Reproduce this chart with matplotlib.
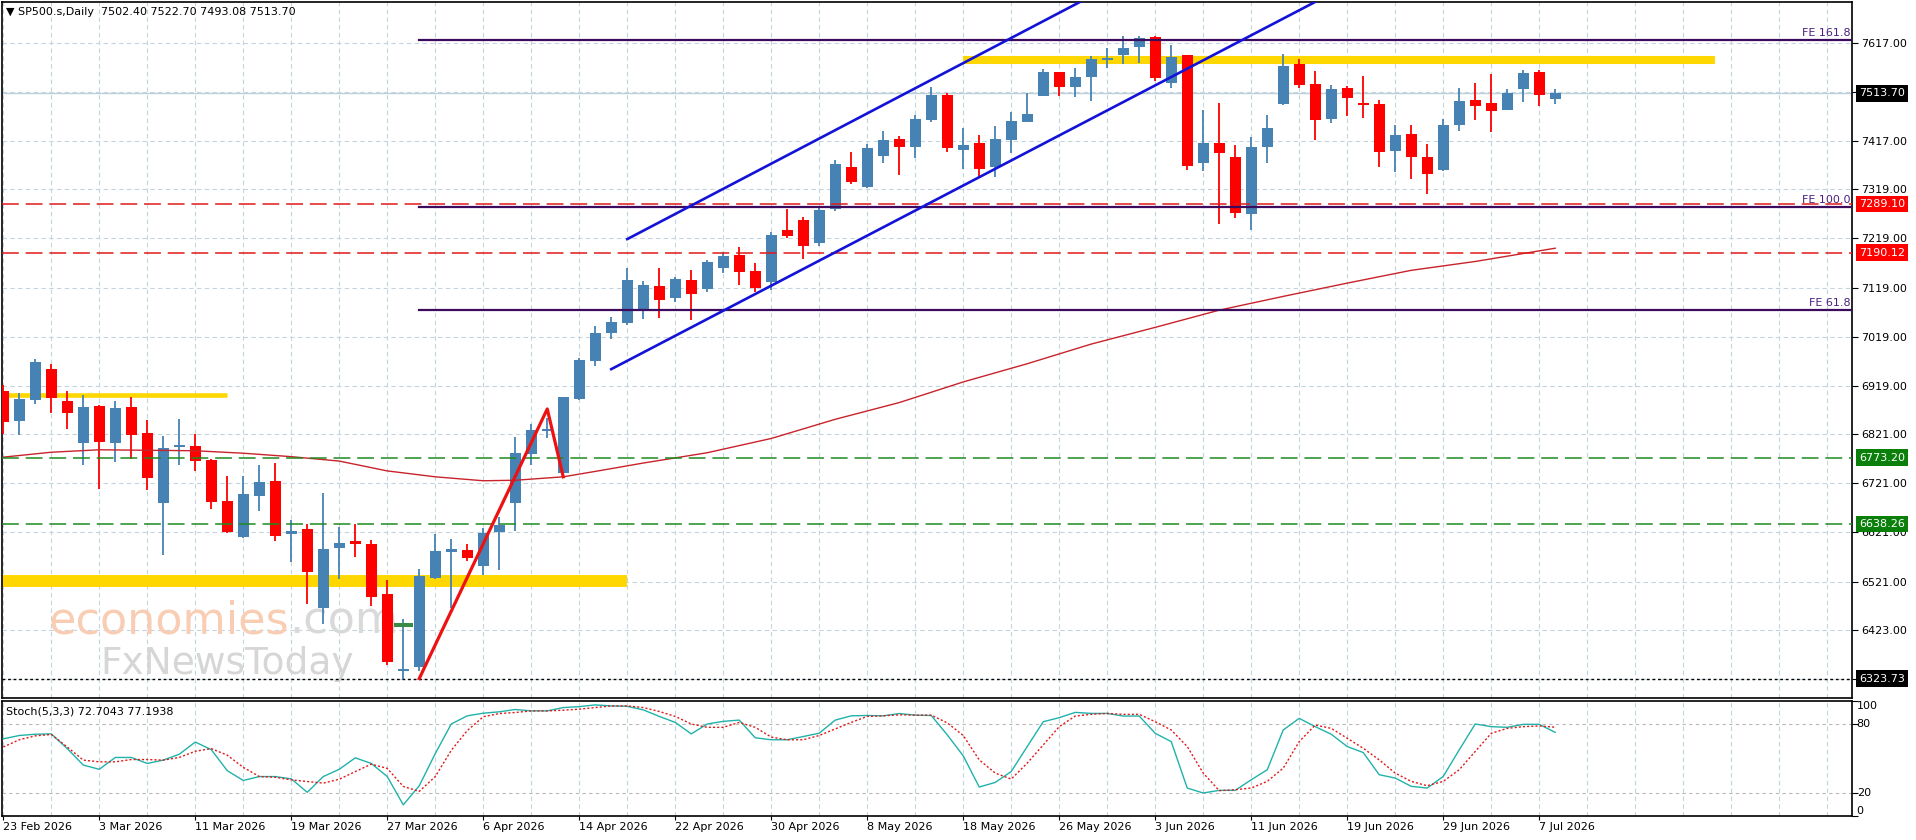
import matplotlib
matplotlib.use("Agg")
import matplotlib.pyplot as plt
import numpy as np

# values (SP500.s daily)
date_labels = ["23 Feb 2026", "3 Mar 2026", "11 Mar 2026", "19 Mar 2026", "27 Mar 2026",
               "6 Apr 2026", "14 Apr 2026", "22 Apr 2026", "30 Apr 2026", "8 May 2026",
               "18 May 2026", "26 May 2026", "3 Jun 2026", "11 Jun 2026", "19 Jun 2026",
               "29 Jun 2026", "7 Jul 2026"]

opens = [6908, 6848, 6890, 6953, 6888, 6803, 6878, 6803, 6876, 6823,
         6681, 6794, 6796, 6768, 6684, 6611, 6695, 6725, 6618, 6627,
         6468, 6590, 6604, 6597, 6496, 6339, 6347, 6528, 6581, 6586,
         6553, 6622, 6680, 6781, 6827, 6742, 6892, 6970, 7026, 7046,
         7074, 7123, 7098, 7135, 7116, 7159, 7185, 7152, 7131, 7237,
         7256, 7209, 7278, 7365, 7323, 7387, 7421, 7405, 7460, 7511,
         7399, 7412, 7365, 7420, 7456, 7509, 7557, 7526, 7548, 7582,
         7591, 7609, 7629, 7536, 7591, 7373, 7414, 7385, 7268, 7404,
         7492, 7574, 7532, 7461, 7524, 7492, 7492, 7397, 7431, 7385,
         7358, 7450, 7500, 7494, 7481, 7523, 7557, 7502.40]
highs = [6920, 6904, 6973, 6963, 6908, 6901, 6880, 6888, 6897, 6849,
         6817, 6852, 6821, 6770, 6735, 6735, 6758, 6763, 6646, 6639,
         6702, 6632, 6639, 6605, 6524, 6444, 6547, 6618, 6608, 6598,
         6629, 6652, 6814, 6842, 6853, 6897, 6975, 7041, 7059, 7158,
         7132, 7158, 7141, 7154, 7175, 7192, 7202, 7169, 7232, 7278,
         7263, 7280, 7378, 7394, 7411, 7437, 7427, 7469, 7526, 7514,
         7443, 7429, 7447, 7477, 7515, 7563, 7557, 7565, 7589, 7606,
         7631, 7631, 7630, 7612, 7592, 7480, 7495, 7409, 7426, 7470,
         7595, 7583, 7559, 7531, 7529, 7549, 7500, 7450, 7450, 7411,
         7461, 7524, 7536, 7553, 7522, 7561, 7561, 7522.70]
lows = [6822, 6820, 6882, 6863, 6832, 6759, 6709, 6764, 6771, 6707,
        6575, 6758, 6746, 6669, 6620, 6610, 6664, 6604, 6560, 6476,
        6435, 6527, 6571, 6471, 6351, 6323.73, 6340, 6527, 6468, 6563,
        6534, 6544, 6624, 6758, 6812, 6741, 6890, 6960, 7015, 7043,
        7056, 7057, 7090, 7053, 7110, 7148, 7124, 7110, 7114, 7219,
        7178, 7203, 7275, 7329, 7322, 7373, 7348, 7383, 7456, 7394,
        7361, 7344, 7344, 7393, 7456, 7509, 7509, 7507, 7499, 7565,
        7573, 7575, 7539, 7524, 7359, 7356, 7249, 7260, 7236, 7373,
        7491, 7524, 7419, 7453, 7468, 7463, 7365, 7355, 7340, 7310,
        7357, 7438, 7460, 7436, 7480, 7497, 7488, 7493.08]
closes = [6846, 6892, 6967, 6895, 6864, 6876, 6805, 6874, 6819, 6732,
          6792, 6797, 6766, 6683, 6622, 6699, 6723, 6614, 6623, 6541,
          6588, 6600, 6598, 6490, 6357, 6344, 6532, 6583, 6588, 6569,
          6620, 6635, 6783, 6829, 6832, 6897, 6971, 7027, 7049, 7134,
          7124, 7093, 7137, 7106, 7170, 7183, 7151, 7119, 7226, 7224,
          7203, 7277, 7370, 7334, 7402, 7419, 7404, 7462, 7511, 7402,
          7408, 7361, 7422, 7458, 7473, 7557, 7526, 7548, 7583, 7585,
          7606, 7626, 7546, 7587, 7367, 7414, 7392, 7270, 7404, 7443,
          7570, 7530, 7460, 7522, 7504, 7490, 7395, 7429, 7385, 7350,
          7450, 7499, 7489, 7479, 7515, 7556, 7511, 7513.70]

# moving average, read at a few bars
ma_bar = [0, 3, 6, 9, 12, 15, 18, 21, 24, 27, 30, 32, 35, 37, 40, 44, 48, 52,
          56, 60, 64, 68, 72, 76, 80, 84, 88, 92, 97]
ma_val = [6774, 6784, 6789, 6788, 6787, 6782, 6775, 6766, 6746, 6734, 6726, 6727,
          6734, 6745, 6762, 6783, 6812, 6851, 6885, 6927, 6964, 7004, 7038, 7073,
          7101, 7128, 7154, 7172, 7199]

stoch_main = [67.1, 70, 71.1, 71.4, 58.6, 44.3, 40.6, 50.9, 50.9, 45.7,
              48.6, 53.7, 64.3, 57.7, 39.4, 30.9, 34.3, 34.3, 32.3, 20.6,
              34.3, 40.6, 50.6, 45.7, 34.3, 9.7, 26.3, 54.3, 80, 87.1,
              89.4, 90.6, 92.6, 91.4, 91.4, 94.3, 95.1, 96.6, 95.7, 95.4,
              92.3, 86.6, 81.4, 71.4, 80, 82.3, 83.4, 68, 66.3, 66.3,
              69.1, 72, 83.4, 87.1, 87.4, 87.1, 89.1, 87.7, 87.4, 70.6,
              52.3, 25.2, 29.2, 38.7, 60.4, 82, 85.5, 90.1, 89.2, 89.2,
              86.9, 86.9, 71.9, 64.7, 24.3, 20, 22.3, 22.3, 31.5, 40.2,
              74.8, 84.9, 77.7, 71.1, 60.4, 55.2, 35.9, 33, 25.8, 24.3,
              34.4, 57.5, 80, 77.7, 77.1, 79.7, 79.7, 72.7043]
stoch_signal = [60, 66.3, 69.7, 70.9, 60, 48.6, 47.1, 47.1, 49.1, 49.1,
                48.6, 50.9, 56.3, 58.6, 52.9, 42.3, 34.3, 33.7, 31.4, 30,
                28.6, 32, 38.6, 45.1, 41.4, 25.7, 21.4, 34.3, 57.1, 74.3,
                86.3, 89.1, 90, 91.4, 91.4, 92, 92.9, 94.3, 95.7, 95.7,
                94.3, 90.9, 86.6, 80, 77.1, 77.1, 81.4, 77.1, 68.6, 66.3,
                66.3, 70, 75.7, 81.4, 86.6, 87.1, 88, 87.7, 87.7, 81,
                70, 48.8, 37.3, 32.1, 46, 61.8, 77.7, 86.9, 88.4, 89.2,
                88.4, 88.4, 82, 74.8, 60.4, 37.3, 22, 22.9, 24.3, 30.1,
                41.6, 64.7, 79.1, 76.2, 67.6, 58.9, 48.8, 37.3, 30.1, 26.3,
                30.1, 40.2, 56.1, 71.9, 76.2, 77.7, 78.3, 77.1938]

price_ticks = [7617, 7517, 7417, 7319, 7219, 7119, 7019, 6919, 6821, 6721,
               6621, 6521, 6423, 6323]

fe_names = ["FE 161.8", "FE 100.0", "FE 61.8"]
fe_levels = [7622.5, 7283.3, 7073.0]
fe_start = 26

red_levels = [7289.10, 7190.12]
green_levels = [6773.20, 6638.26]
low_level = 6323.73
bid = 7513.70

zigzag_bar = [26, 34, 35]
zigzag_val = [6323.73, 6872, 6734]

chan_up_bar = [39, 70]
chan_up_val = [7217.5, 7746]
chan_lo_bar = [38, 82]
chan_lo_val = [6953, 7700]

# yellow zones: (first bar, last bar, price)
zone_top = (60, 107, 7581.8)
zone_left = (-1, 14, 6901)
zone_low = (-1, 39, 6521.2)

mark_bar = [24.4, 25.6]
mark_val = [6433.5, 6433.5]

BULL = "#4682B4"
BEAR = "#FF0000"
GRID = "#C5D5DE"
FS = 8

plt.rcParams['font.family'] = ['DejaVu Sans']

W, H = 1916, 840
fig = plt.figure(figsize=(W / 100, H / 100), dpi=100)
ax = fig.add_axes([2 / W, 1 - 698 / H, 1850 / W, 696 / H])
ax2 = fig.add_axes([2 / W, 1 - 816 / H, 1850 / W, 115 / H])

xlim = (-0.08, 115.55)

# ---------- main panel ----------
ax.set_xlim(*xlim)
ax.set_ylim(6284.1, 7699.8)
ax.set_xticks(np.arange(0, 116, 3))
ax.tick_params(axis='x', length=0, labelbottom=False)
ax.yaxis.tick_right()
ax.set_yticks(price_ticks, labels=["%.2f" % v for v in price_ticks])
ax.tick_params(axis='y', length=4, width=0.8, pad=2.5, labelsize=FS, colors='black')
ax.grid(True, color=GRID, linestyle=(0, (4, 3)), linewidth=0.8, zorder=0)
ax.set_axisbelow(True)
for s in ax.spines.values():
    s.set_linewidth(1.2)

# watermark
t1 = ax.text(0.0254, 0.093, "economies", transform=ax.transAxes, fontsize=32,
             color="#F9CDB3", va='baseline', zorder=1)
ax.annotate(".com", xy=(1, 0), xycoords=t1, fontsize=32, color="#D9D9D9",
            va='bottom', ha='left', zorder=1)
ax.text(0.053, 0.034, "FxNewsToday", transform=ax.transAxes, fontsize=27,
        color="#D6D6D6", va='baseline', zorder=1)

# yellow zones
for b0, b1, p in [zone_top]:
    ax.plot([b0, b1], [p, p], color="#FFD700", lw=5.8, solid_capstyle='butt', zorder=2)
for b0, b1, p in [zone_left]:
    ax.plot([b0, b1], [p, p], color="#FFD700", lw=3.3, solid_capstyle='butt', zorder=2)
for b0, b1, p in [zone_low]:
    ax.plot([b0, b1], [p, p], color="#FFD700", lw=8.6, solid_capstyle='butt', zorder=2)

# bid line
ax.axhline(bid, color="#BCD0DA", lw=1.0, zorder=2)

# candles
o = np.array(opens)
h = np.array(highs)
l = np.array(lows)
c = np.array(closes)
x = np.arange(len(o))
cols = np.where(c >= o, BULL, BEAR)
ax.vlines(x, l, h, colors=cols, lw=1.3, zorder=3)
ax.bar(x, np.maximum(np.abs(c - o), 4), bottom=np.minimum(o, c), width=0.69,
       color=cols, linewidth=0, zorder=3.1)

# moving average
ax.plot(ma_bar, ma_val, color="#C8232B", lw=1.0, zorder=4)

# horizontal levels
for v in red_levels:
    ax.axhline(v, color="#E01A1A", lw=1.1, linestyle=(0, (11, 4.5)), zorder=4)
for v in green_levels:
    ax.axhline(v, color="#1E8A1E", lw=1.1, linestyle=(0, (11, 4.5)), zorder=4)
ax.axhline(low_level, color="black", lw=1.0, linestyle=(0, (2, 2)), zorder=4)

# fibonacci expansion levels
for name, v in zip(fe_names, fe_levels):
    ax.plot([fe_start, xlim[1] + 1], [v, v], color="#3D0B5E", lw=1.6, zorder=4)
    ax.text(0.9993, v + 4, name, transform=ax.get_yaxis_transform(), ha='right',
            va='bottom', fontsize=FS, color="#4B2080", zorder=5)

# trend channel
ax.plot(chan_up_bar, chan_up_val, color="#1212D8", lw=1.9, zorder=5)
ax.plot(chan_lo_bar, chan_lo_val, color="#1212D8", lw=1.9, zorder=5)

# zigzag and small marker
ax.plot(zigzag_bar, zigzag_val, color="#EE1111", lw=2.3, zorder=5)
ax.plot(mark_bar, mark_val, color="#3A8A44", lw=2.9, solid_capstyle='butt', zorder=5)

# right-axis price boxes
boxes = [(bid, "black"), (red_levels[0], "#FF0000"), (red_levels[1], "#FF0000"),
         (green_levels[0], "#0A800A"), (green_levels[1], "#0A800A"), (low_level, "black")]
for v, fc in boxes:
    ax.text(1.0038, v, "%.2f" % v, transform=ax.get_yaxis_transform(), ha='left',
            va='center', fontsize=FS, color='white', clip_on=False, zorder=10,
            bbox=dict(boxstyle='square,pad=0.3', fc=fc, ec='none'))

ax.text(0.0022, 0.9856, "\u25bc SP500.s,Daily  7502.40 7522.70 7493.08 7513.70",
        transform=ax.transAxes, fontsize=FS, va='center', ha='left', zorder=10)

# ---------- stochastic panel ----------
ax2.set_xlim(*xlim)
ax2.set_ylim(0, 100)
ax2.plot(x, stoch_main, color="#20B2AA", lw=1.0, zorder=4)
ax2.plot(x, stoch_signal, color="#E01A1A", lw=1.0, linestyle=(0, (1.5, 1.5)), zorder=4)
for lv in [20, 80]:
    ax2.axhline(lv, color="#B8B8B8", lw=0.8, linestyle=(0, (3, 3)), zorder=1)

date_pos = np.arange(0, 6 * len(date_labels), 6)
ax2.set_xticks(date_pos, labels=date_labels)
ax2.set_xticks(np.arange(0, 116, 3), minor=True)
ax2.tick_params(axis='x', which='major', length=3, pad=1.5, labelsize=FS)
ax2.tick_params(axis='x', which='minor', length=0)
ax2.grid(True, axis='x', which='both', color=GRID, linestyle=(0, (4, 3)), linewidth=0.8)
ax2.set_axisbelow(True)
plt.setp(ax2.get_xticklabels(), ha='left')

ax2.yaxis.tick_right()
ax2.set_yticks([0, 20, 80, 100], labels=[])
ax2.tick_params(axis='y', length=4, width=0.8)
for v, txt, va in [(100, "100", 'top'), (80, "80", 'center'), (20, "20", 'center'), (0, "0", 'bottom')]:
    ax2.text(1.0025, v, txt, transform=ax2.get_yaxis_transform(), ha='left', va=va,
             fontsize=FS, clip_on=False)
for s in ax2.spines.values():
    s.set_linewidth(1.2)
ax2.text(0.0022, 0.913, "Stoch(5,3,3) 72.7043 77.1938", transform=ax2.transAxes,
         fontsize=FS, va='center', ha='left')

fig.savefig("out.png", dpi=100, facecolor='white')
